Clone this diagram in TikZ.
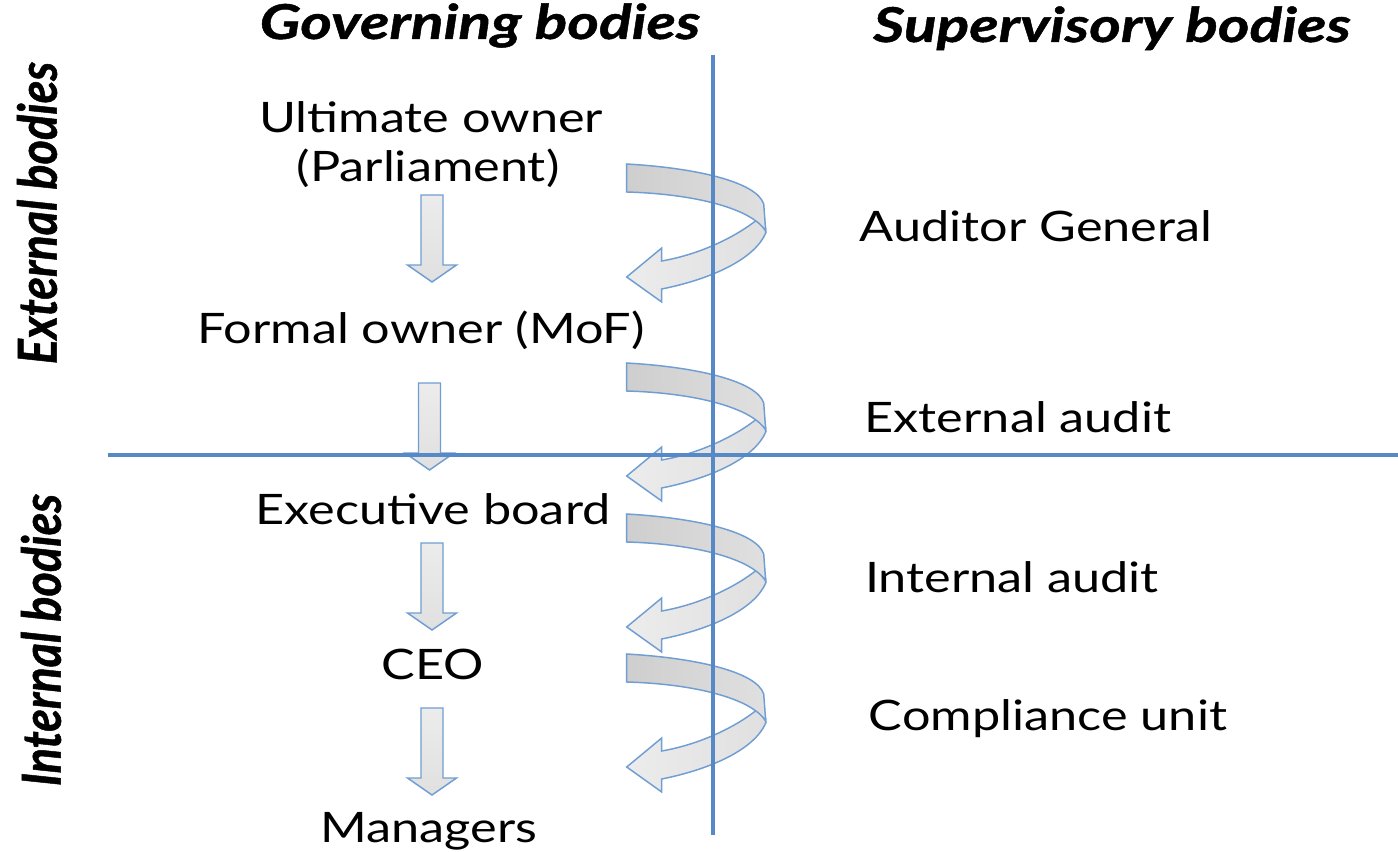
\documentclass[tikz,border=0pt]{standalone}
\usepackage{fontspec}
\setmainfont{Lato}[FakeStretch=1.2]
\newfontfamily\headfont{Lato}[FakeStretch=1.26, FakeBold=1]
\newfontfamily\sidefont{Lato}[FakeBold=1]
\definecolor{lineblue}{RGB}{86,137,197}
\definecolor{arrblue}{RGB}{112,158,210}
\definecolor{bandlight}{RGB}{236,236,236}
\definecolor{banddark}{RGB}{206,206,206}
\definecolor{bandmid}{RGB}{224,224,224}
\tikzset{
  body/.style={anchor=base, inner sep=0pt, font=\fontsize{31.5}{38}\selectfont},
  headtxt/.style={anchor=base, inner sep=0pt, font=\headfont\bfseries\itshape\fontsize{36}{42}\selectfont},
  sidetxt/.style={rotate=90, yscale=1.15, inner sep=0pt, font=\sidefont\bfseries\itshape\fontsize{35}{40}\selectfont},
  divider/.style={draw=lineblue, line width=3.2pt},
  arrline/.style={draw=arrblue, line width=1.1pt, line join=miter},
  downarrow/.pic={
    \path[arrline, top color=bandlight, bottom color=bandmid]
      (-11,0) -- (11,0) -- (11,70) -- (24.5,70) -- (0,87) -- (-24.5,70) -- (-11,70) -- cycle;
  },
  twist/.pic={
    % lower (returning) band with head
    \path[arrline, left color=bandlight, right color=bandmid]
      (130,56) .. controls (110,72) and (75,90) .. (35,97) -- (35,84) -- (0,113)
      -- (35,138) -- (35,125) .. controls (85,115) and (128,95) .. (139,69)
      -- (139,64) -- cycle;
    % upper band
    \path[arrline, left color=banddark, right color=bandmid]
      (0,0) .. controls (70,4) and (130,18) .. (137,40) -- (139,67)
      .. controls (125,45) and (70,30) .. (0,28) -- cycle;
  }
}
\begin{document}
\begin{tikzpicture}[x=0.75pt, y=-0.75pt]
\useasboundingbox (0,0) rectangle (1398,852);
\fill[white] (0,0) rectangle (1398,852);

% headings
\node[headtxt] (gov) at (480,39) {Governing bodies};
\node[headtxt] (sup) at (1112,42) {Supervisory bodies};
\node[sidetxt] (ext) at (37,213) {External bodies};
\node[sidetxt] (int) at (41,640) {Internal bodies};

% governing bodies
\node[body] (ult) at (431,133) {Ultimate owner};
\node[body] (parl) at (428,182) {(Parliament)};
\node[body] (mof) at (421,343) {Formal owner (MoF)};
\node[body] (exec) at (433,524) {Executive board};
\node[body] (ceo) at (433,679) {CEO};
\node[body] (man) at (429,842) {Managers};

% supervisory bodies
\node[body] (ag) at (1036,242) {Auditor General};
\node[body] (ea) at (1018,432) {External audit};
\node[body] (ia) at (1012,592) {Internal audit};
\node[body] (cu) at (1048,730) {Compliance unit};

% down arrows
\pic at (432,195) {downarrow};
\pic at (429.5,383) {downarrow};
\pic at (432,543) {downarrow};
\pic at (432,708) {downarrow};

% twisted arrows
\pic at (626.7,164) {twist};
\pic at (626.7,363) {twist};
\pic at (626.7,514) {twist};
\pic at (626.7,654) {twist};

% dividers
\coordinate (vtop) at (713,55);
\coordinate (vbot) at (713,835);
\coordinate (hleft) at (108,455);
\coordinate (hright) at (1398,455);
\draw[divider] (hleft) -- (hright);
\draw[divider] (vtop) -- (vbot);
\end{tikzpicture}
\end{document}
